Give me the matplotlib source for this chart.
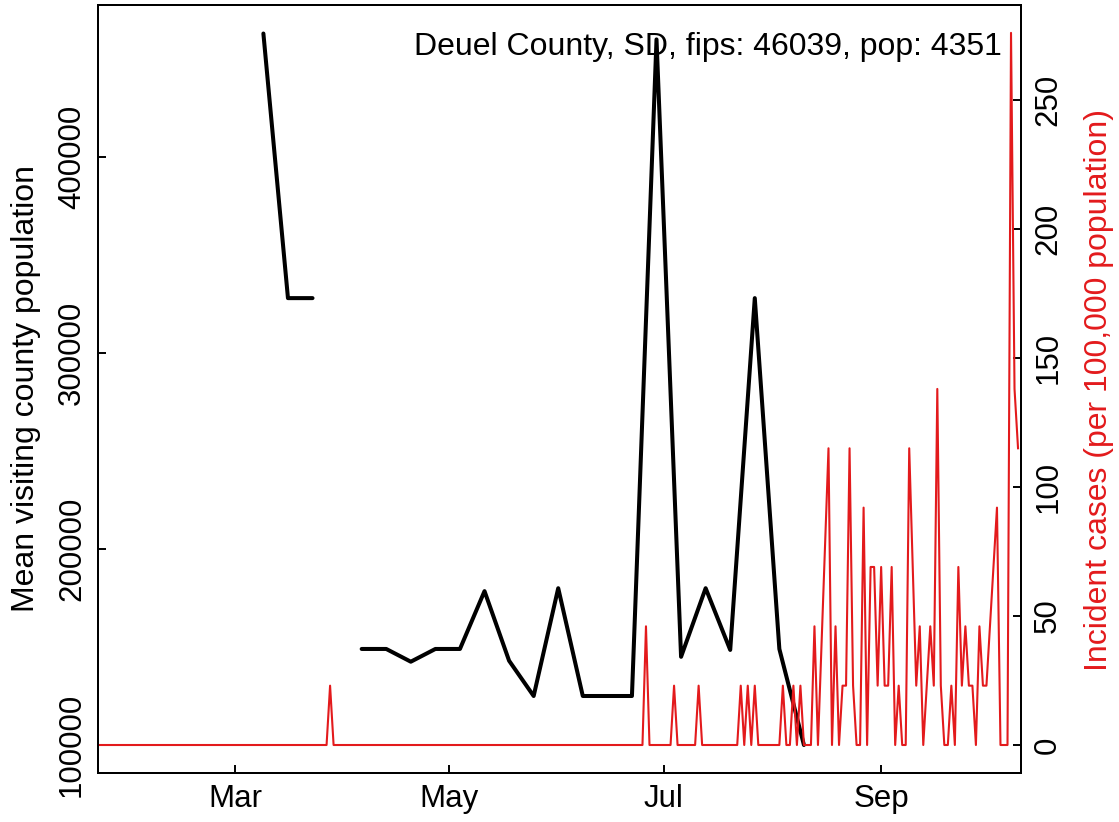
import numpy as np
import pandas as pd
import matplotlib
matplotlib.use("Agg")
import matplotlib.pyplot as plt
import matplotlib.dates as mdates

plt.rcParams['font.family'] = ['Liberation Sans', 'DejaVu Sans']

# Weekly mean visiting county population (black line), NaN = no data
visit_dates = pd.date_range("2020-03-09", "2020-08-10", freq="7D")
visit_vals = [463000, 328000, 328000, np.nan, 149000, 149000, 142500, 149000,
              149000, 178500, 143000, 125000, 180000, 125000, 125000, 125000,
              460000, 145000, 180000, 148500, 328000, 149000, 100000]

# Daily incident cases per 100,000 (red line), vertices
case_dates = ["2020-01-22", "2020-03-27", "2020-03-28", "2020-03-29",
              "2020-06-25", "2020-06-26", "2020-06-27",
              "2020-07-03", "2020-07-04", "2020-07-05",
              "2020-07-10", "2020-07-11", "2020-07-12",
              "2020-07-22", "2020-07-23", "2020-07-24", "2020-07-25",
              "2020-07-26", "2020-07-27", "2020-07-28",
              "2020-08-03", "2020-08-04", "2020-08-05", "2020-08-06",
              "2020-08-07", "2020-08-08", "2020-08-09", "2020-08-10",
              "2020-08-12", "2020-08-13", "2020-08-14", "2020-08-17",
              "2020-08-18", "2020-08-19", "2020-08-20", "2020-08-21",
              "2020-08-22", "2020-08-23", "2020-08-24", "2020-08-25",
              "2020-08-26", "2020-08-27", "2020-08-28", "2020-08-29",
              "2020-08-30", "2020-08-31", "2020-09-01", "2020-09-02",
              "2020-09-03", "2020-09-04", "2020-09-05", "2020-09-06",
              "2020-09-07", "2020-09-08", "2020-09-09", "2020-09-11",
              "2020-09-12", "2020-09-13", "2020-09-15", "2020-09-16",
              "2020-09-17", "2020-09-18", "2020-09-19", "2020-09-20",
              "2020-09-21", "2020-09-22", "2020-09-23", "2020-09-24",
              "2020-09-25", "2020-09-26", "2020-09-27", "2020-09-28",
              "2020-09-29", "2020-09-30", "2020-10-01", "2020-10-04",
              "2020-10-05", "2020-10-07", "2020-10-08", "2020-10-09",
              "2020-10-10"]
case_vals = [0, 0, 23, 0,
             0, 46, 0,
             0, 23, 0,
             0, 23, 0,
             0, 23, 0, 23,
             0, 23, 0,
             0, 23, 0, 0,
             23, 0, 23, 0,
             0, 46, 0, 115,
             0, 46, 0, 23,
             23, 115, 23, 0,
             0, 92, 0, 69,
             69, 23, 69, 23,
             23, 69, 0, 23,
             0, 0, 115, 23,
             46, 0, 46, 23,
             138, 23, 0, 0,
             23, 0, 69, 23,
             46, 23, 23, 0,
             46, 23, 23, 92,
             0, 0, 276, 138,
             115]

month_ticks = ["2020-03-01", "2020-05-01", "2020-07-01", "2020-09-01"]
month_labels = ["Mar", "May", "Jul", "Sep"]

red = "#E31A1C"
W, H = 1119, 822
fig = plt.figure(figsize=(W / 100, H / 100), dpi=100)
left, right, top, bottom = 98, 1020.7, 5, 773
ax = fig.add_axes([left / W, 1 - bottom / H, (right - left) / W, (bottom - top) / H])

ax.plot(visit_dates, visit_vals, color="black", lw=2.9,
        solid_joinstyle="round", solid_capstyle="round")

mar1 = mdates.date2num(pd.Timestamp("2020-03-01"))
ax.set_xlim(mar1 - 39.12, mar1 + 223.76)
ax.set_ylim(85714, 477551)
ax.set_yticks([100000, 200000, 300000, 400000])
ax.set_yticklabels(["100000", "200000", "300000", "400000"],
                   rotation=90, va="center", fontsize=22.5)
ax.set_xticks(mdates.date2num(pd.to_datetime(month_ticks)))
ax.set_xticklabels(month_labels, fontsize=22.5)

ax2 = ax.twinx()
ax2.plot(pd.to_datetime(case_dates), case_vals, color=red, lw=1.5)
ax2.set_ylim(-10.85, 286.8)
ax2.set_yticks([0, 50, 100, 150, 200, 250])
ax2.set_yticklabels(["0", "50", "100", "150", "200", "250"],
                    rotation=90, va="center", fontsize=22.5)
ax2.set_xlim(mar1 - 39.12, mar1 + 223.76)

for a in (ax, ax2):
    for s in a.spines.values():
        s.set_linewidth(1.4)
ax.tick_params(axis="both", direction="in", length=5.8, width=1.4)
ax.tick_params(axis="y", pad=8)
ax.tick_params(axis="x", pad=8)
ax2.tick_params(axis="y", direction="in", length=5.8, width=1.4, pad=9)

ax.text(0.9797, 0.935, "Deuel County, SD, fips: 46039, pop: 4351",
        transform=ax.transAxes, ha="right", va="baseline", fontsize=23)

fig.text(26 / W, 1 - 389 / H, "Mean visiting county population",
         rotation=90, ha="center", va="center", fontsize=23)
fig.text(1099 / W, 1 - 390 / H, "Incident cases (per 100,000 population)",
         rotation=90, ha="center", va="center", fontsize=23, color=red)

fig.savefig("out.png", dpi=100)
